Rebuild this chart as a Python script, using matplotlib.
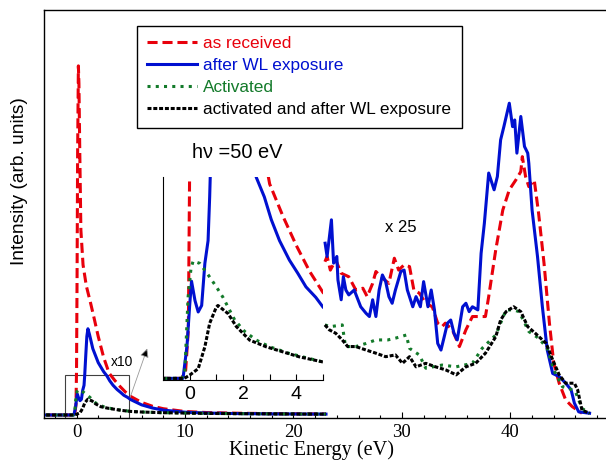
import matplotlib.pyplot as plt
import matplotlib.patches as patches
from matplotlib.ticker import MultipleLocator, FixedLocator

SANS = "Liberation Sans"
SERIF = "Liberation Serif"

# low energy part (shown 1:1 and in the x10 inset)
red_x = [-2.8, -1.0, -0.3, -0.15, -0.05, 0.0, 0.05, 0.1, 0.17, 0.22, 0.3, 0.4, 0.6, 0.9, 1.3,
         1.6, 2.0, 2.5, 3.0, 3.5, 4.0, 4.5, 5.0, 6.0, 7.0, 8.0, 10.0, 12.0, 15.0, 18.0, 21.0, 23.0]
red_y = [0, 0, 0, 0.5, 3.0, 13, 40, 75, 100, 95, 75, 53, 43, 37, 32,
         28, 22.5, 16.5, 12.0, 10.0, 8.2, 6.6, 5.3, 3.6, 2.5, 1.8, 1.0, 0.7, 0.5, 0.4, 0.32, 0.3]

blue_x = [-2.8, -1.0, -0.25, -0.1, 0.0, 0.07, 0.2, 0.32, 0.45, 0.57, 0.69, 0.75, 0.85, 0.95,
          1.05, 1.2, 1.5, 2.0, 2.5, 2.8, 3.06, 3.37, 3.74, 4.05, 4.36, 4.73, 5.0, 6.0, 7.0,
          8.0, 10.0, 12.0, 15.0, 18.0, 21.0, 23.0]
blue_y = [0, 0, 0, 2.0, 4.5, 6.0, 4.8, 4.1, 4.5, 7.1, 8.5, 11.2, 17, 22.5,
          24.7, 23, 19, 15, 12.4, 11.2, 9.8, 8.5, 7.3, 6.5, 5.65, 5.0, 4.4, 2.9, 2.0,
          1.4, 0.8, 0.55, 0.4, 0.32, 0.27, 0.25]

green_x = [-2.8, -1.0, -0.3, -0.18, -0.06, 0.05, 0.13, 0.38, 0.69, 1.0, 1.25, 1.69, 2.06,
           2.5, 3.0, 3.74, 4.24, 4.98, 6.0, 7.0, 8.0, 10.0, 12.0, 15.0, 18.0, 21.0, 23.0]
green_y = [0, 0, 0, 0.4, 5.0, 6.8, 7.24, 7.1, 6.4, 5.65, 5.0, 3.6, 2.9,
           2.36, 1.95, 1.54, 1.33, 1.02, 0.85, 0.75, 0.65, 0.55, 0.45, 0.38, 0.32, 0.27, 0.25]

black_x = [-2.8, -1.0, -0.2, 0.0, 0.32, 0.57, 0.75, 1.0, 1.06, 1.44, 1.75, 2.25, 2.87, 3.49,
           4.11, 4.98, 6.0, 7.0, 8.0, 10.0, 12.0, 15.0, 18.0, 21.0, 23.0]
black_y = [0, 0, 0, 0.2, 0.6, 1.95, 3.4, 4.4, 4.5, 4.0, 3.2, 2.36, 1.95, 1.64,
           1.33, 1.02, 0.85, 0.75, 0.65, 0.55, 0.45, 0.38, 0.32, 0.27, 0.25]

# high energy part, already multiplied by 25
red_hx = [22.9, 23.1, 23.4, 23.9, 24.4, 25.1, 25.75, 26.4, 26.8, 27.3, 27.6, 28.05, 28.8, 29.3,
          29.7, 30.2, 30.7, 31.1, 31.6, 32.2, 32.8, 33.3, 33.7, 34.0, 34.65, 35.3, 35.9, 36.5,
          37.3, 37.7, 38.0, 38.65, 39.3, 39.9, 40.5, 40.96, 41.1, 41.4, 41.7, 42.2, 42.6, 43.1,
          43.6, 44.0, 44.5, 45.1, 45.7, 46.6]
red_hy = [43.9, 45.4, 41.5, 44.4, 40.6, 39.6, 35.8, 36.3, 33.9, 37.7, 41.1, 39.6, 37.7, 44.9,
          41.5, 43.0, 42.5, 35.8, 34.9, 32.0, 31.0, 26.3, 25.3, 26.3, 24.4, 19.6, 24.4, 28.2,
          28.2, 28.2, 33.9, 47.3, 58.7, 64.5, 67.3, 69.7, 74.0, 68.3, 65.4, 67.3, 57.8, 43.5,
          26.3, 14.8, 9.1, 4.3, 2.4, 0.5]

blue_hx = [22.92, 23.1, 23.5, 23.7, 24.0, 24.1, 24.4, 24.6, 24.83, 25.1, 25.6, 26.2, 26.7, 27.0,
           27.3, 27.6, 27.9, 28.2, 28.5, 28.8, 29.1, 29.4, 29.9, 30.2, 30.5, 31.0, 31.3, 31.7,
           32.0, 32.4, 32.7, 33.0, 33.3, 33.6, 33.9, 34.2, 34.5, 34.8, 35.1, 35.6, 35.9, 36.2,
           36.5, 37.0, 37.3, 37.6, 38.0, 38.5, 38.8, 39.1, 39.4, 39.9, 40.2, 40.4, 40.6, 40.96,
           41.3, 41.6, 41.7, 42.0, 42.5, 42.95, 43.4, 43.9, 44.5, 45.1, 45.6, 45.9, 46.3, 47.3]
blue_hy = [49.2, 45.4, 55.9, 43.5, 45.4, 38.7, 33.0, 39.6, 35.8, 34.4, 35.8, 31.0, 29.1, 28.2,
           33.0, 28.2, 35.8, 40.1, 38.2, 33.9, 32.0, 35.8, 41.1, 41.5, 35.8, 31.0, 33.9, 31.0,
           38.2, 31.0, 35.8, 30.1, 20.5, 18.6, 22.4, 26.3, 27.2, 23.4, 21.5, 31.0, 32.0, 29.6,
           31.0, 30.1, 46.3, 54.9, 69.3, 64.5, 68.3, 78.8, 82.6, 89.3, 82.6, 84.5, 75.0, 85.5,
           76.9, 75.0, 72.1, 58.7, 45.4, 31.0, 18.6, 11.9, 11.0, 9.1, 7.2, 3.4, 0.9, 0.5]

green_hx = [22.9, 23.4, 24.5, 24.8, 25.75, 26.7, 27.6, 28.7, 29.4, 30.4, 30.7, 31.6, 32.2, 33.7,
            35.0, 36.5, 37.4, 38.65, 39.6, 40.3, 40.8, 41.7, 42.6, 43.4, 44.0, 44.8, 45.4, 46.0,
            46.6, 47.3]
green_hy = [25.8, 25.3, 25.8, 19.6, 19.6, 20.5, 21.5, 21.5, 22.0, 22.9, 19.1, 17.2, 13.4, 14.3,
            13.8, 14.8, 19.1, 22.9, 30.1, 30.1, 29.6, 23.9, 22.0, 19.1, 12.9, 8.1, 7.6, 6.7,
            1.9, 0.5]

black_hx = [22.9, 23.3, 23.9, 24.5, 25.0, 25.75, 26.7, 27.6, 28.5, 29.4, 30.05, 30.7, 31.3, 32.2,
            33.1, 34.05, 35.0, 35.9, 36.8, 37.7, 38.65, 39.1, 39.6, 40.3, 40.96, 41.6, 42.3, 43.3,
            43.9, 44.5, 45.1, 45.9, 46.2, 46.6, 47.3]
black_hy = [25.8, 24.4, 23.4, 21.5, 19.6, 19.6, 18.6, 17.7, 16.7, 17.2, 14.8, 16.7, 13.8, 14.8,
            13.8, 12.9, 11.5, 13.8, 14.8, 17.7, 22.4, 27.2, 29.6, 31.0, 29.6, 25.3, 23.4, 20.5,
            15.8, 11.5, 9.1, 9.1, 7.2, 1.4, 0.5]

labels = ["as received", "after WL exposure", "Activated", "activated and after WL exposure"]
colors = ["#e8000b", "#0010d0", "#137a2a", "black"]
dashes = [(3.3, 1.6), None, (1.0, 1.7), (1.3, 0.6)]

low = [(red_x, red_y), (blue_x, blue_y), (green_x, green_y), (black_x, black_y)]
high = [(red_hx, red_hy), (blue_hx, blue_hy), (green_hx, green_hy), (black_hx, black_hy)]

W, H = 606, 461
fig = plt.figure(figsize=(W / 100, H / 100), dpi=100)
ax = fig.add_axes([44 / W, 1 - 417.5 / H, 564 / W, 407.5 / H])

for (x, y), (hx, hy), lab, c, d in zip(low, high, labels, colors, dashes):
    kw = dict(color=c, lw=2.2)
    if d is not None:
        kw["dashes"] = d
    ax.plot(x, y, label=lab, **kw)
    ax.plot(hx, hy, **kw)

ax.set_xlim(-3, 49)
ax.set_ylim(-0.72, 116)
ax.set_yticks([])
ax.xaxis.set_major_locator(MultipleLocator(10))
ax.xaxis.set_minor_locator(MultipleLocator(2))
ax.tick_params(axis="x", which="both", direction="in", pad=5, labelsize=13.5, width=0.8)
ax.tick_params(axis="x", which="major", length=4)
ax.tick_params(axis="x", which="minor", length=2.5)
for t in ax.get_xticklabels():
    t.set_fontfamily(SERIF)
ax.spines["right"].set_visible(False)
for s in ["left", "top", "bottom"]:
    ax.spines[s].set_linewidth(1.0)

# zoom box and arrow to the inset
ax.add_patch(patches.Rectangle((-1.04, -0.72), 5.84, 12.2, fill=False, ec="0.25", lw=0.8))
ax.annotate("", xy=(6.6, 19.8), xytext=(4.86, 4.3),
            arrowprops=dict(arrowstyle="-|>", lw=0.6, ec="0.6", fc="black", mutation_scale=13))
ax.text(4.17, 15.2, "x10", fontsize=10, family=SANS, ha="center", va="center")
ax.text(29.9, 53.6, "x 25", fontsize=12, family=SANS, ha="center", va="center")
ax.text(14.8, 75.2, "h\u03bd =50 eV", fontsize=14.4, family=SANS, ha="center", va="center")

leg = ax.legend(loc="upper left", bbox_to_anchor=(137 / W, 1 - 26 / H), bbox_transform=fig.transFigure,
                borderaxespad=0, fancybox=False, framealpha=1, edgecolor="black",
                labelcolor="linecolor", handlelength=2.9, handletextpad=0.35,
                labelspacing=0.4, borderpad=0.6, prop={"family": SANS, "size": 12.4})
leg.get_frame().set_linewidth(1.0)

fig.text(20 / W, 1 - 181 / H, "Intensity (arb. units)", rotation=90, family=SANS, fontsize=13.8,
         ha="center", va="center")
fig.text(311 / W, 1 - 455 / H, "Kinetic Energy (eV)", family=SERIF, fontsize=14.6,
         ha="center", va="baseline")

# x10 inset of the onset region
ins = fig.add_axes([163 / W, 1 - 380 / H, 160 / W, 203 / H])
ins.patch.set_alpha(0)
for (x, y), c, d in zip(low, colors, dashes):
    kw = dict(color=c, lw=2.2)
    if d is not None:
        kw["dashes"] = d
    ins.plot(x, y, **kw)
ins.set_xlim(-1, 5)
ins.set_ylim(-0.1, 12.43)
ins.set_yticks([])
ins.xaxis.set_major_locator(FixedLocator([0, 2, 4]))
ins.xaxis.set_minor_locator(FixedLocator([1, 3, 5]))
ins.tick_params(axis="x", which="both", direction="in", length=4, width=0.8, pad=4, labelsize=14)
for t in ins.get_xticklabels():
    t.set_fontfamily(SANS)
ins.spines["right"].set_visible(False)
ins.spines["top"].set_visible(False)

fig.savefig("out.png", dpi=100)
